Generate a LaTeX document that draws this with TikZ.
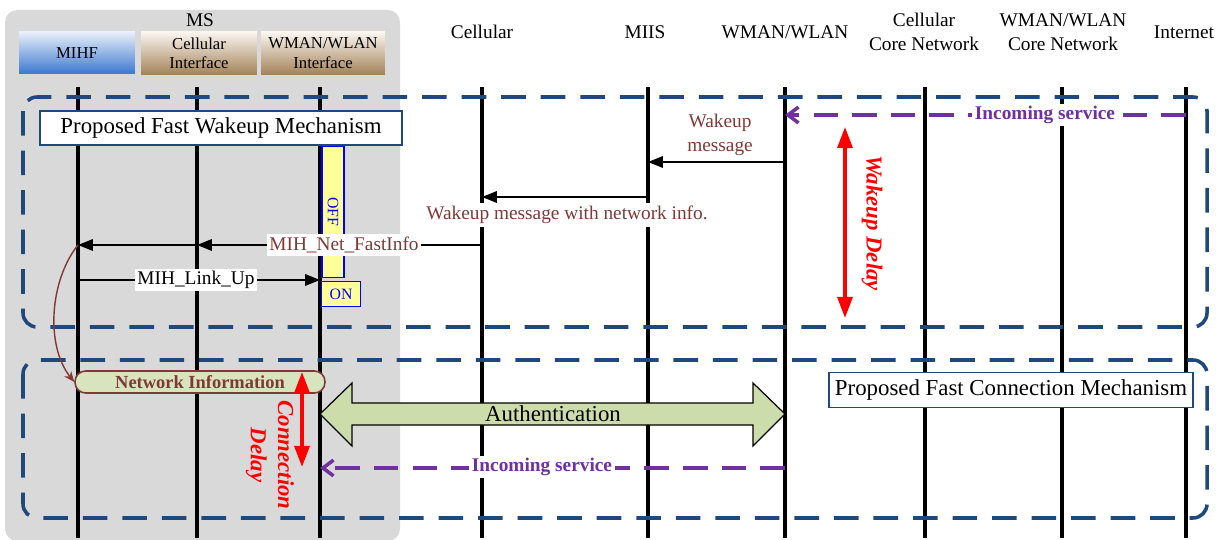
\documentclass[tikz,border=0pt]{standalone}
\usepackage{fontspec}
\setmainfont{Liberation Serif}
\usetikzlibrary{arrows.meta}
\definecolor{boxblue}{RGB}{31,73,125}
\definecolor{msgbrown}{RGB}{128,57,55}
\definecolor{servpurple}{RGB}{112,48,160}
\definecolor{nigreen}{RGB}{215,228,189}
\definecolor{authgreen}{RGB}{204,220,170}
\definecolor{msgray}{RGB}{217,217,217}
\definecolor{offyellow}{RGB}{255,255,153}
\definecolor{mihftop}{RGB}{232,239,250}
\definecolor{mihfbot}{RGB}{59,120,207}
\definecolor{iftop}{RGB}{251,246,240}
\definecolor{ifbot}{RGB}{164,131,90}

\begin{document}
\begin{tikzpicture}[x=0.02cm, y=-0.02cm,
  life/.style={line width=2pt},
  msg/.style={line width=1.2pt, -{Triangle[length=8.5pt,width=6.5pt]}},
  mechbox/.style={draw=boxblue, line width=2pt, dash pattern=on 14pt off 8.5pt, rounded corners=8pt},
  service/.style={servpurple, line width=2pt, dash pattern=on 14pt off 8pt, -{Straight Barb[length=6pt,width=9pt]}},
  delay/.style={red, line width=2pt, {Triangle[length=12pt,width=8.5pt]}-{Triangle[length=12pt,width=8.5pt]}},
  delaytxt/.style={text=red, font=\bfseries\itshape\fontsize{13}{15.5}\selectfont, rotate=-90, align=center},
  title/.style={draw=boxblue, fill=white, line width=0.8pt, font=\fontsize{13}{15}\selectfont},
  hdr/.style={font=\fontsize{11}{13.5}\selectfont, align=center},
  ifbox/.style={minimum width=2.32cm, minimum height=0.84cm, align=center, font=\fontsize{9.5}{11}\selectfont},
  lbl/.style={fill=white, inner sep=1.5pt, font=\fontsize{11}{13.5}\selectfont, align=center},
  servlbl/.style={text=servpurple, font=\bfseries\fontsize{11}{13}\selectfont},
  switch/.style={draw=blue, fill=offyellow, text=blue, inner sep=0pt, line width=0.7pt, font=\fontsize{9}{10}\selectfont},
  netinfo/.style={draw=msgbrown, fill=nigreen, rounded corners=6pt, line width=0.9pt, minimum width=5cm, minimum height=0.44cm, inner sep=0pt, text=msgbrown, font=\bfseries\fontsize{10.5}{12}\selectfont}]
\useasboundingbox (0,0) rectangle (1223,540);
\fill[msgray, rounded corners=7pt] (5,10) rectangle (400,541);
\node[font=\fontsize{11}{13}\selectfont] (ms) at (200,20) {MS};

\node[ifbox, top color=mihftop, bottom color=mihfbot] (bmihf) at (77,53) {MIHF};
\node[ifbox, top color=iftop, bottom color=ifbot] (bcif) at (199,53) {Cellular\\Interface};
\node[ifbox, top color=iftop, bottom color=ifbot, minimum width=2.48cm] (bwif) at (323,53) {WMAN/WLAN\\Interface};
\node[hdr] (hcell) at (482,32) {Cellular};
\node[hdr] (hmiis) at (645,32) {MIIS};
\node[hdr] (hwman) at (785,32) {WMAN/WLAN};
\node[hdr] (hccore) at (924,32) {Cellular\\Core Network};
\node[hdr] (hwcore) at (1063,32) {WMAN/WLAN\\Core Network};
\node[hdr] (hinet) at (1184,32) {Internet};

\foreach \n/\x in {mihf/78, cif/197, wif/320, cell/482, miis/648, wman/785, ccore/925, wcore/1062, inet/1186} {
  \coordinate (\n) at (\x,87);
  \draw[life] (\n) -- (\x,538);
}

\draw[mechbox] (23,97) rectangle (1207,327);
\draw[mechbox] (23,360) rectangle (1207,518);
\node[title, minimum width=7.24cm, minimum height=0.68cm] (wakeup) at (221,128) {Proposed Fast Wakeup Mechanism};
\node[title, minimum width=7.26cm, minimum height=0.7cm] (connect) at (1011,390) {Proposed Fast Connection Mechanism};

\node[switch, rotate=-90, minimum width=2.62cm, minimum height=0.44cm] (off) at (333,212) {OFF};
\node[switch, minimum width=0.78cm, minimum height=0.5cm] (on) at (341,294) {ON};

\coordinate (r1) at (0,115);
\coordinate (r2) at (0,162);
\coordinate (r3) at (0,197);
\coordinate (r4) at (0,245);
\coordinate (r5) at (0,280);
\coordinate (au) at (0,414);
\coordinate (r6) at (0,468);

\draw[service] (inet |- r1) -- (wman |- r1);
\node[lbl, servlbl] (serv1) at (1045,115) {Incoming service};
\draw[msg] (wman |- r2) -- (miis |- r2);
\node[hdr, text=msgbrown] (wmsg) at (720,135) {Wakeup\\message};
\draw[msg] (miis |- r3) -- (cell |- r3);
\node[lbl, text=msgbrown] (wmsgnet) at (567,215) {Wakeup message with network info.};
\draw[msg] (cell |- r4) -- (cif |- r4);
\draw[msg] (cif |- r4) -- (mihf |- r4);
\node[lbl, text=msgbrown] (fastinfo) at (344,245) {MIH\_Net\_FastInfo};
\draw[msg] (mihf |- r5) -- (wif |- r5);
\node[lbl] (linkup) at (196,280) {MIH\_Link\_Up};

\coordinate (wd1) at (845,127);
\coordinate (wd2) at (845,318);
\draw[delay] (wd1) -- (wd2);
\node[delaytxt] (wdelay) at (872,223) {Wakeup Delay};

\node[netinfo] (ni) at (200,382) {Network Information};
\draw[msgbrown, line width=0.8pt, -{Stealth[length=6pt,width=5pt]}] (mihf |- r4) .. controls (50,280) and (45,345) .. (ni.west);

\coordinate (cd1) at (302,372);
\coordinate (cd2) at (302,467);
\draw[delay] (cd1) -- (cd2);
\node[delaytxt] (cdelay) at (270,455) {Connection\\Delay};

\draw[fill=authgreen, line width=0.7pt] (wif |- au) -- ++(32,-31) -- ++(0,20) -- ++(401,0) -- ++(0,-20) -- (wman |- au) -- ++(-32,32) -- ++(0,-21) -- ++(-401,0) -- ++(0,21) -- cycle;
\node[font=\fontsize{13}{15}\selectfont] (auth) at (553,414) {Authentication};

\draw[service] (wman |- r6) -- (wif |- r6);
\node[lbl, servlbl] (serv2) at (542,467) {Incoming service};
\end{tikzpicture}
\end{document}
